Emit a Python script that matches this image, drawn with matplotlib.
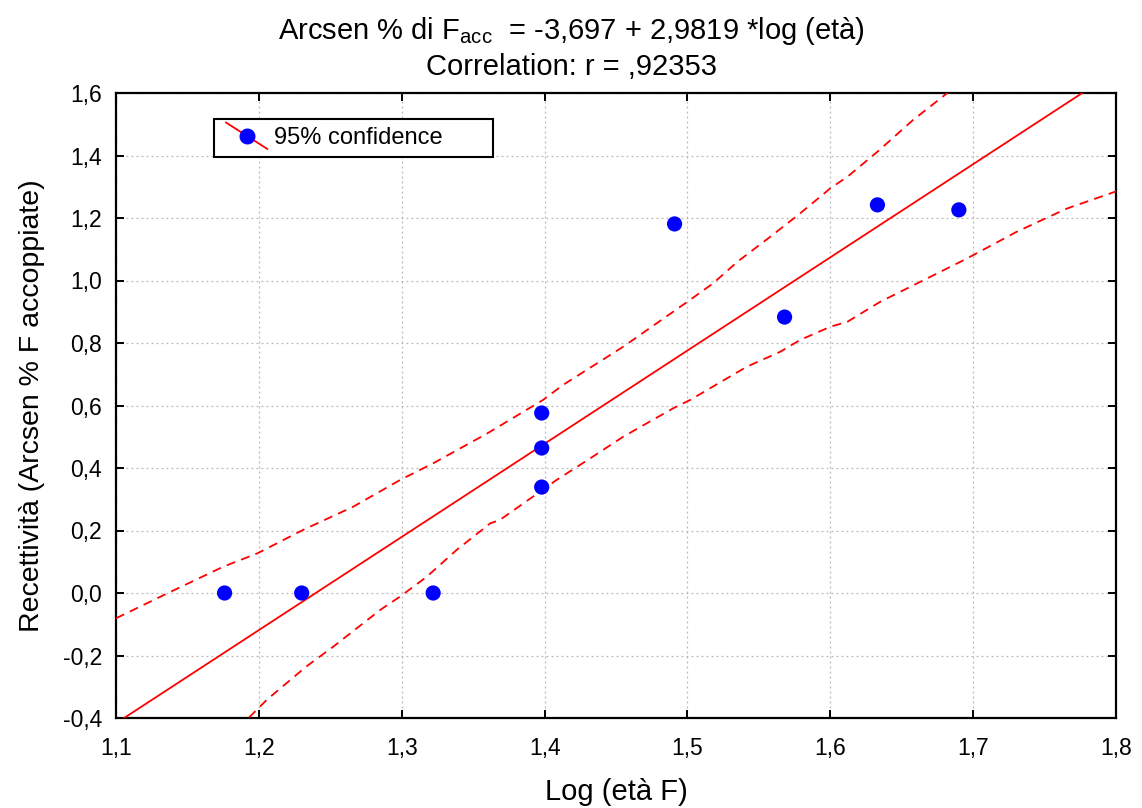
import matplotlib
matplotlib.use("Agg")
import matplotlib.pyplot as plt
from matplotlib.lines import Line2D
from matplotlib.patches import Rectangle
from matplotlib.legend_handler import HandlerBase
from matplotlib.ticker import FuncFormatter, MultipleLocator

plt.rcParams['font.family'] = ['Liberation Sans', 'DejaVu Sans']
plt.rcParams['mathtext.fontset'] = 'custom'
plt.rcParams['mathtext.rm'] = 'Liberation Sans'
plt.rcParams['mathtext.it'] = 'Liberation Sans:italic'

# Data points (log age, arcsin % accoppiate)
log_eta = [1.176, 1.230, 1.322, 1.398, 1.398, 1.398, 1.491, 1.568, 1.633, 1.690]
recettivita = [0.0, 0.0, 0.0, 0.576, 0.464, 0.339, 1.181, 0.883, 1.242, 1.226]

# Regression coefficients (from title)
intercept = -3.697
slope = 2.9819
line_x = [1.1, 1.8]

# 95% confidence bands
upper_x = [1.100, 1.136, 1.175, 1.199, 1.231, 1.266, 1.299, 1.322, 1.360, 1.399,
           1.413, 1.455, 1.465, 1.500, 1.518, 1.535, 1.558, 1.579, 1.600, 1.612,
           1.633, 1.658, 1.682, 1.700]
upper_y = [-0.081, -0.001, 0.084, 0.127, 0.202, 0.276, 0.362, 0.415, 0.511, 0.618,
           0.666, 0.788, 0.820, 0.932, 0.991, 1.060, 1.140, 1.215, 1.295, 1.332,
           1.412, 1.514, 1.600, 1.660]
lower_x = [1.185, 1.1915, 1.2055, 1.233, 1.252, 1.285, 1.299, 1.3175, 1.3385, 1.362,
           1.3688, 1.4085, 1.432, 1.455, 1.490, 1.502, 1.5415, 1.565, 1.579, 1.600,
           1.612, 1.635, 1.6675, 1.6955, 1.7305, 1.7655, 1.800]
lower_y = [-0.43, -0.406, -0.342, -0.236, -0.172, -0.054, -0.011, 0.052, 0.138, 0.223,
           0.234, 0.362, 0.431, 0.500, 0.591, 0.618, 0.724, 0.772, 0.810, 0.852,
           0.868, 0.932, 1.006, 1.070, 1.156, 1.230, 1.285]

RED = '#ff0000'
BLUE = '#0000ff'

fig = plt.figure(figsize=(11.42, 8.08), dpi=100)
ax = fig.add_axes([116/1142, 90/808, 1000/1142, 625/808])

line_y = [intercept + slope * v for v in line_x]
ax.plot(line_x, line_y, color=RED, lw=1.3, zorder=3)
ax.plot(upper_x, upper_y, color=RED, lw=1.3, ls=(0, (5, 3.5)), zorder=3)
ax.plot(lower_x, lower_y, color=RED, lw=1.3, ls=(0, (5, 3.5)), zorder=3)
ax.scatter(log_eta, recettivita, s=120, color=BLUE, edgecolors='none', zorder=4)

ax.set_xlim(1.1, 1.8)
ax.set_ylim(-0.4, 1.6)
ax.xaxis.set_major_locator(MultipleLocator(0.1))
ax.yaxis.set_major_locator(MultipleLocator(0.2))
fmt = FuncFormatter(lambda v, p: f"{v:.1f}".replace('.', ',').replace('-0,0', '0,0'))
ax.xaxis.set_major_formatter(fmt)
ax.yaxis.set_major_formatter(fmt)
ax.tick_params(direction='in', length=6, width=1.4, labelsize=16.5, top=True, right=True,
               colors='black')
ax.tick_params(axis='x', pad=14)
ax.tick_params(axis='y', pad=10)
ax.grid(True, ls=(0, (1.5, 2.5)), color='#b8b8b8', lw=0.9)
ax.set_axisbelow(True)
for s in ax.spines.values():
    s.set_linewidth(1.6)
    s.set_color('black')

ax.set_xlabel("Log (età F)", fontsize=21, labelpad=13)
ax.set_ylabel("Recettività (Arcsen % F accoppiate)", fontsize=20.5, labelpad=13)

fig.text(0.5, 1 - 31/808, r"Arcsen % di F$_{\mathrm{acc}}$  = -3,697 + 2,9819 *log (età)",
         ha='center', va='center', fontsize=21)
fig.text(0.5, 1 - 67/808, "Correlation: r = ,92353", ha='center', va='center', fontsize=21)


class DiagHandler(HandlerBase):
    def create_artists(self, legend, orig_handle, xdescent, ydescent, width, height,
                       fontsize, trans):
        x0, x1 = -xdescent, -xdescent + width
        y0, y1 = -ydescent - 0.3 * height, -ydescent + 1.3 * height
        ln = Line2D([x0, x1], [y1, y0], color=RED, lw=1.3)
        mk = Line2D([(x0 + x1) / 2], [(y0 + y1) / 2], marker='o', color=BLUE,
                    markersize=10.5, ls='none')
        ln.set_transform(trans)
        mk.set_transform(trans)
        return [ln, mk]


# legend frame (wide box as in the original)
ax.add_patch(Rectangle((98/1000, (718-157)/625), 279/1000, 38/625, transform=ax.transAxes,
                       facecolor='white', edgecolor='black', lw=1.5, zorder=5))
h = Line2D([], [], color=RED)
leg = ax.legend([h], ["95% confidence"], handler_map={Line2D: DiagHandler()},
                loc='center left', bbox_to_anchor=(110/1000, (718-138)/625), borderaxespad=0,
                frameon=False, fontsize=17, handlelength=1.75, handletextpad=0.3,
                borderpad=0.0)
leg.set_zorder(6)

fig.savefig("out.png", dpi=100, facecolor='white')
